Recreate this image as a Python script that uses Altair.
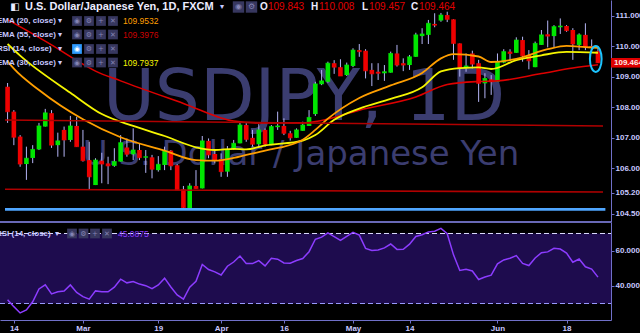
import altair as alt
import pandas as pd

# ---------------- data ----------------
OPEN = [108.68,107.86,107.04,106.14,106.34,106.62,107.37,107.81,106.76,107.26,
        106.93,107.39,106.71,106.27,105.45,106.25,106.16,106.08,106.22,106.68,
        106.46,106.60,106.35,106.36,105.94,106.11,106.58,106.10,105.31,104.65,
        105.42,105.34,106.90,106.47,106.30,105.89,106.62,106.82,107.42,107.00,
        106.79,107.26,106.79,107.35,107.39,107.15,107.00,107.23,107.39,107.78,
        108.76,108.84,109.45,109.32,109.06,109.36,109.88,109.86,109.23,109.17,
        109.12,109.14,109.77,109.45,109.39,109.66,110.34,110.38,110.74,110.85,
        111.03,110.89,110.10,109.28,109.77,109.45,108.79,108.92,108.84,109.47,
        109.83,109.79,110.21,109.72,109.32,110.05,110.40,110.34,110.63,110.67,
        110.54,110.05,110.38,110.01,109.843]
HIGH = [108.80,107.91,107.09,106.71,106.76,107.49,107.95,107.91,107.17,107.37,
        107.72,107.69,107.26,106.87,106.33,106.51,106.38,106.66,107.09,106.98,
        107.31,106.83,106.60,106.44,106.40,106.71,106.60,106.14,105.42,105.51,
        105.94,107.06,106.98,106.60,106.49,106.73,106.93,107.53,107.48,107.26,
        107.45,107.31,107.42,107.86,107.64,107.23,107.31,107.53,107.91,108.84,
        109.23,109.50,109.55,109.58,109.47,109.94,110.08,109.91,109.45,109.45,
        109.39,109.83,110.05,109.61,109.72,110.45,110.60,110.87,111.09,111.10,
        111.14,110.89,110.10,109.77,109.86,109.56,109.12,109.06,109.77,109.91,
        109.91,110.30,110.32,109.88,110.16,110.54,110.85,110.70,110.92,110.70,
        110.60,110.43,110.76,110.23,110.008]
LOW = [107.49,106.76,106.05,105.62,106.17,106.60,107.37,106.67,106.38,106.38,
       106.87,106.71,106.22,105.29,105.45,105.51,105.48,106.05,106.22,106.38,
       106.27,106.27,105.85,105.67,105.89,105.94,105.94,105.29,104.65,104.63,
       105.33,105.34,106.33,106.16,105.72,105.72,106.60,106.82,106.87,106.71,
       106.69,106.71,106.76,107.26,107.09,106.91,107.00,107.23,107.39,107.72,
       108.73,108.81,109.10,109.03,109.03,109.32,109.66,108.95,108.70,108.90,
       108.87,109.14,109.34,109.19,109.23,109.66,110.08,110.08,110.63,110.81,
       110.80,109.56,109.01,109.17,109.28,108.18,108.30,108.41,108.84,109.45,
       109.53,109.79,109.50,109.25,109.32,110.05,109.97,109.97,110.41,110.48,
       109.56,109.88,109.88,109.88,109.457]
CLOSE = [107.86,107.02,106.14,106.33,106.62,107.39,107.82,106.76,106.90,106.93,
         107.39,106.71,106.25,105.72,106.27,106.14,106.08,106.22,106.84,106.46,
         106.60,106.35,106.38,105.97,106.13,106.58,106.08,105.29,104.71,105.42,
         105.33,106.90,106.44,106.27,105.89,106.62,106.82,107.42,106.95,106.79,
         107.26,106.79,107.37,107.39,107.15,107.00,107.26,107.42,107.67,108.77,
         108.87,109.45,109.32,109.03,109.39,109.88,109.83,109.20,109.10,109.12,
         109.17,109.77,109.39,109.39,109.66,110.38,110.41,110.76,110.70,111.03,
         110.89,110.10,109.28,109.36,109.42,108.79,108.95,108.84,109.50,109.83,
         109.77,110.21,109.69,109.53,110.10,110.38,110.34,110.65,110.67,110.52,
         110.08,110.38,109.99,109.99,109.464]

RSI = [32.2,28.2,24.6,26.3,31.0,38.3,40.7,35.5,36.7,37.1,
       40.6,36.3,33.9,32.5,37.2,36.7,36.7,39.3,43.9,41.8,
       42.6,41.1,40.2,38.5,40.6,44.5,39.4,34.9,32.5,39.3,
       42.7,52.3,49.4,48.1,46.3,51.3,53.7,57.1,52.9,52.8,
       54.5,51.5,55.8,55.3,53.2,53.0,54.6,55.7,59.6,66.7,
       67.9,70.3,68.2,66.1,68.4,70.7,69.1,61.5,60.3,60.6,
       61.8,64.0,60.9,61.0,63.9,68.3,69.3,70.9,71.3,72.9,
       69.9,57.8,48.9,49.5,48.6,43.7,45.1,46.2,52.7,54.9,
       55.9,57.4,52.9,51.7,56.0,59.0,59.5,61.5,61.1,58.8,
       53.6,55.4,51.0,49.7,45.09]

EMA20_IDX = [0,1,5,12,18,25,30,33,36,38,41,47,49,51,56,61,66,69,71,75,77,81,86,89,92,94]
EMA20_VAL = [109.51,109.27,108.57,107.61,107.02,106.58,106.27,106.25,106.34,106.44,106.58,
             106.94,107.26,107.63,108.31,108.72,109.13,109.61,109.75,109.67,109.49,109.59,
             109.91,110.02,109.98,109.9532]
EMA30_IDX = [0,2,10,15,20,25,30,33,36,38,41,47,49,52,56,61,66,69,72,75,77,81,85,89,94]
EMA30_VAL = [110.08,109.70,108.48,107.78,107.39,107.06,106.69,106.60,106.64,106.62,106.75,
             106.91,107.09,107.59,107.96,108.28,108.66,109.18,109.29,109.31,109.26,109.55,
             109.71,109.82,109.7937]
EMA55_IDX = [0,7,11,14,18,28,36,40,47,50,56,65,70,75,78,85,90,94]
EMA55_VAL = [110.88,110.05,109.54,109.19,108.87,108.13,107.55,107.49,107.49,107.57,107.91,
             108.34,108.75,108.85,108.87,109.11,109.29,109.3976]

# drawn horizontal trend lines (start index, end index, start price, end price)
TREND_X0 = [-0.41, -0.41]
TREND_X1 = [94.8, 94.8]
TREND_P0 = [107.585, 105.31]
TREND_P1 = [107.39, 105.22]
SUPPORT_LEVEL = 104.65

TICK_IDX = [1, 12, 24, 34, 44, 55, 64, 78, 89]
TICK_LABELS = ['14', 'Mar', '19', 'Apr', '16', 'May', '14', 'Jun', '18']
PRICE_TICKS = [111, 110, 109, 108, 107, 106, 105.2, 104.5]
RSI_TICKS = [60, 40]
RSI_UPPER, RSI_LOWER = 70, 30

LAST_IDX_MARK = 93.65   # highlighted last candle (ellipse centre)
LAST_P_MARK = 109.59

# ---------------- layout / style ----------------
W, H = 611, 320
X_DOMAIN = [-0.41, 95.28]
PRICE_DOMAIN = [104.237, 111.525]
PRICE_RANGE = [222, 0]
RSI_DOMAIN = [20.57, 76.57]
RSI_RANGE = [320, 222]

AX_COL = '#7070c8'
LBL_COL = '#c8c8ff'
GREEN = '#00e600'
RED = '#ee0000'
WICK = '#b4b4f4'
UIFONT = 'Liberation Sans'

label_expr = "[" + ",".join(f"'{t}'" for t in TICK_LABELS) + "][indexof([" + \
    ",".join(str(v) for v in TICK_IDX) + "], datum.value)]"

x_axis = alt.Axis(values=TICK_IDX, labelExpr=label_expr, grid=False, title=None,
                  domainColor=AX_COL, tickColor=AX_COL, tickSize=3, labelColor=LBL_COL,
                  labelFont=UIFONT, labelFontSize=8, labelFontWeight='bold',
                  labelPadding=1, labelFlush=False)
price_axis = alt.Axis(values=PRICE_TICKS, format='.3f', orient='right', grid=False, title=None,
                      domainColor=AX_COL, tickColor=AX_COL, tickSize=3, labelColor=LBL_COL,
                      labelFont=UIFONT, labelFontSize=8, labelFontWeight='bold',
                      labelPadding=1, labelOverlap=False)
rsi_axis = alt.Axis(values=RSI_TICKS, format='.3f', orient='right', grid=False, title=None,
                    domainColor=AX_COL, tickColor=AX_COL, tickSize=3, labelColor=LBL_COL,
                    labelFont=UIFONT, labelFontSize=8, labelFontWeight='bold',
                    labelPadding=1, labelOverlap=False)


def X(f):
    return alt.X(f'{f}:Q', scale=alt.Scale(domain=X_DOMAIN, nice=False, zero=False), axis=x_axis)


def YP(f):
    return alt.Y(f'{f}:Q', scale=alt.Scale(domain=PRICE_DOMAIN, range=PRICE_RANGE, nice=False, zero=False),
                 axis=price_axis)


def YR(f):
    return alt.Y(f'{f}:Q', scale=alt.Scale(domain=RSI_DOMAIN, range=RSI_RANGE, nice=False, zero=False),
                 axis=rsi_axis)


n = len(CLOSE)
candles = pd.DataFrame({'i': list(range(n)), 'o': OPEN, 'h': HIGH, 'l': LOW, 'c': CLOSE})
candles['dir'] = ['up' if c >= o else 'down' for o, c in zip(OPEN, CLOSE)]
dir_color = alt.Color('dir:N', scale=alt.Scale(domain=['up', 'down'], range=[GREEN, RED]), legend=None)

wicks = alt.Chart(candles).mark_rule(color=WICK, strokeWidth=1).encode(x=X('i'), y=YP('l'), y2='h')
bodies = alt.Chart(candles).mark_bar(size=4.6).encode(x=X('i'), y=YP('o'), y2='c', color=dir_color)
closes = alt.Chart(candles).mark_tick(orient='horizontal', thickness=1, size=4.6).encode(
    x=X('i'), y=YP('c'), color=dir_color)


def ema(idx, val, col, w):
    df = pd.DataFrame({'i': idx, 'v': val})
    return alt.Chart(df).mark_line(color=col, strokeWidth=w, interpolate='monotone').encode(x=X('i'), y=YP('v'))


ema55 = ema(EMA55_IDX, EMA55_VAL, '#dd0000', 1.6)
ema30 = ema(EMA30_IDX, EMA30_VAL, '#f5f500', 1.8)
ema20 = ema(EMA20_IDX, EMA20_VAL, '#ff9f00', 1.8)

trend_df = pd.DataFrame({'x0': TREND_X0, 'x1': TREND_X1, 'p0': TREND_P0, 'p1': TREND_P1})
trends = alt.Chart(trend_df).mark_rule(color='#b00000', strokeWidth=1.6).encode(
    x=X('x0'), x2='x1', y=YP('p0'), y2='p1')

sup_df = pd.DataFrame({'x0': [X_DOMAIN[0]], 'x1': [X_DOMAIN[1] - 0.1], 'p': [SUPPORT_LEVEL]})
support = alt.Chart(sup_df).mark_rule(color='#4fa6ff', strokeWidth=2.6).encode(x=X('x0'), x2='x1', y=YP('p'))

ell_df = pd.DataFrame({'i': [LAST_IDX_MARK], 'p': [LAST_P_MARK]})
ellipse = alt.Chart(ell_df).mark_point(
    shape='M 0 -1 A 0.45 1 0 1 1 0 1 A 0.45 1 0 1 1 0 -1 Z', size=676, filled=False,
    stroke='#1cc4ff', strokeWidth=2, opacity=1).encode(x=X('i'), y=YP('p'))

last_df = pd.DataFrame({'p': [CLOSE[-1]], 't': [f'{CLOSE[-1]:.3f}']})
last_box = alt.Chart(last_df).mark_point(
    shape='M -1 -0.32 L 1 -0.32 L 1 0.32 L -1 0.32 Z', size=900, filled=True,
    color='#e00000', opacity=1).encode(x=alt.value(626), y=YP('p'))
last_txt = alt.Chart(last_df).mark_text(align='left', baseline='middle', font=UIFONT, fontSize=8,
                                        fontWeight='bold', color='#ffe8e8').encode(
    x=alt.value(614), y=YP('p'), text='t:N')

price = alt.layer(wicks, bodies, closes, ema55, ema30, ema20, trends, support, ellipse, last_box, last_txt)

# ---------------- RSI pane ----------------
band_df = pd.DataFrame({'top': [RSI_UPPER], 'bot': [RSI_LOWER]})
band = alt.Chart(band_df).mark_rect(color='#1e0c4e').encode(
    x=alt.value(0), x2=alt.value(W), y=YR('top'), y2='bot')
lvl_df = pd.DataFrame({'lvl': [RSI_UPPER, RSI_LOWER], 'c': ['#dcdcff', '#9a9aff']})
levels = alt.Chart(lvl_df).mark_rule(strokeDash=[5, 3], strokeWidth=1).encode(
    x=alt.value(0), x2=alt.value(W), y=YR('lvl'), color=alt.Color('c:N', scale=None))
rsi_df = pd.DataFrame({'i': list(range(n)), 'r': RSI})
rsi_line = alt.Chart(rsi_df).mark_line(color='#8c3cff', strokeWidth=1.5).encode(x=X('i'), y=YR('r'))
sep_df = pd.DataFrame({'lvl': [RSI_DOMAIN[1]]})
sep = alt.Chart(sep_df).mark_rule(color='#8c8cf4', strokeWidth=1.5).encode(
    x=alt.value(0), x2=alt.value(W), y=YR('lvl'))

rsi = alt.layer(band, levels, rsi_line, sep)

# ---------------- watermark ----------------
WM = '#3b3d70'
wm1 = alt.Chart(pd.DataFrame({'t': ['USDJPY, 1D']})).mark_text(
    font='DejaVu Sans', fontSize=71, color=WM, align='center', baseline='alphabetic').encode(
    x=alt.value(304), y=alt.value(120), text='t:N')
wm2 = alt.Chart(pd.DataFrame({'t': ['U.S. Dollar / Japanese Yen']})).mark_text(
    font='DejaVu Sans', fontSize=34, color=WM, align='center', baseline='alphabetic').encode(
    x=alt.value(301), y=alt.value(165), text='t:N')

# ---------------- legend overlay ----------------
WHITE = '#ececff'
LEG_BOLD = pd.DataFrame([
    ('U.S. Dollar/Japanese Yen, 1D, FXCM', 25, 7, WHITE, 11),
    ('O', 260, 7, WHITE, 10), ('H', 311, 7, WHITE, 10), ('L', 362, 7, WHITE, 10), ('C', 411, 7, WHITE, 10),
    ('EMA (20, close)', -3, 21, LBL_COL, 8), ('EMA (55, close)', -3, 34.5, LBL_COL, 8),
    ('RSI (14, close)', -3, 49, LBL_COL, 8), ('EMA (30, close)', -3, 62.5, LBL_COL, 8),
    ('RSI (14, close)', -4, 233.5, LBL_COL, 8),
], columns=['t', 'x', 'y', 'c', 's'])
LEG_REG = pd.DataFrame([
    ('109.843', 268, 7, '#e00000', 10), ('110.008', 319, 7, '#e00000', 10),
    ('109.457', 369, 7, '#e00000', 10), ('109.464', 419, 7, '#e00000', 10),
    ('109.9532', 123, 21, '#ff9f00', 8.5), ('109.3976', 123, 34.5, '#cc0000', 8.5),
    ('109.7937', 123, 62.5, '#f5f500', 8.5), ('45.0875', 118, 233.5, '#8c3cff', 8.5),
], columns=['t', 'x', 'y', 'c', 's'])

box_rows = []
glyph_rows = []
GLYPHS = ['◉', '⚙', '+', '✕']
for yy in [21, 34.5, 49, 62.5]:
    for k, xx in enumerate([77, 89, 101, 113]):
        col = '#2f9bff' if (yy == 49 and k == 0) else '#37375f'
        box_rows.append((xx, yy, col, 95))
        glyph_rows.append((GLYPHS[k], xx, yy, '#ffffff' if col != '#37375f' else '#8484b4', 7))
for k, xx in enumerate([72, 83.5, 95, 107]):
    box_rows.append((xx, 233.5, '#37375f', 95))
    glyph_rows.append((GLYPHS[k], xx, 233.5, '#8484b4', 7))
for k, xx in enumerate([238.5, 251.5]):
    box_rows.append((xx, 7, '#37375f', 130))
    glyph_rows.append((GLYPHS[k], xx, 7, '#8484b4', 8))
glyph_rows.append(('◧', 15, 7, WHITE, 10))
for yy, xx in [(7, 222), (21, 60), (34.5, 60), (49, 60), (62.5, 60), (233.5, 57)]:
    glyph_rows.append(('▾', xx, yy, LBL_COL, 8))
boxes_df = pd.DataFrame(box_rows, columns=['x', 'y', 'c', 'sz'])
glyph_df = pd.DataFrame(glyph_rows, columns=['t', 'x', 'y', 'c', 's'])


def px_text(df, weight, font, align='left'):
    return alt.Chart(df).mark_text(align=align, baseline='middle', font=font, fontWeight=weight).encode(
        x=alt.X('x:Q', scale=None), y=alt.Y('y:Q', scale=None), text='t:N',
        color=alt.Color('c:N', scale=None), size=alt.Size('s:Q', scale=None))


leg_bold = px_text(LEG_BOLD, 'bold', UIFONT)
leg_reg = px_text(LEG_REG, 'normal', UIFONT)
boxes = alt.Chart(boxes_df).mark_square(opacity=1).encode(
    x=alt.X('x:Q', scale=None), y=alt.Y('y:Q', scale=None),
    color=alt.Color('c:N', scale=None), size=alt.Size('sz:Q', scale=None))
glyphs = px_text(glyph_df, 'normal', 'DejaVu Sans', align='center')

chart = alt.layer(wm1, wm2, price, rsi, boxes, glyphs, leg_bold, leg_reg).resolve_scale(
    y='independent'
).properties(
    width=W, height=H, background='black',
    autosize=alt.AutoSizeParams(type='none'),
    padding={'left': 0, 'top': 0, 'right': 29, 'bottom': 13},
).configure_view(strokeWidth=0)

chart.save('out.html', embed_options={'renderer': 'svg', 'actions': False})
